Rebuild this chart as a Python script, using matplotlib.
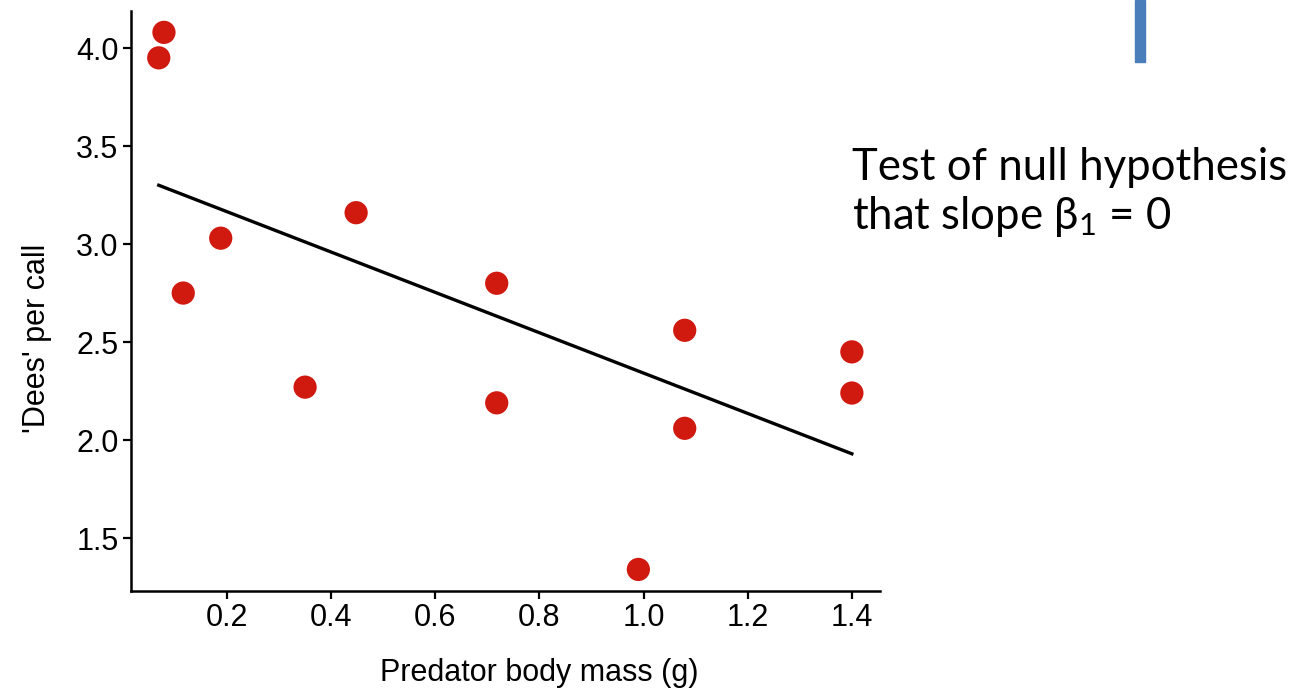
import matplotlib.pyplot as plt
from matplotlib.patches import Rectangle

# predator body mass (g) vs number of 'dee' notes per call
mass = [0.069, 0.079, 0.116, 0.188, 0.350, 0.448, 0.718, 0.718,
        0.990, 1.079, 1.079, 1.400, 1.400]
dees = [3.95, 4.08, 2.75, 3.03, 2.27, 3.16, 2.80, 2.19,
        1.34, 2.56, 2.06, 2.45, 2.24]

# least-squares line as drawn, end points over the range of mass
fit_x = [0.069, 1.400]
fit_y = [3.30, 1.93]

xticks = [0.2, 0.4, 0.6, 0.8, 1.0, 1.2, 1.4]
yticks = [1.5, 2.0, 2.5, 3.0, 3.5, 4.0]

plt.rcParams['font.family'] = ['Liberation Sans', 'DejaVu Sans']

fig = plt.figure(figsize=(12.97, 6.96), dpi=100)
ax = fig.add_axes([131 / 1297, 1 - 591 / 696, 749 / 1297, 580 / 696])

ax.plot(fit_x, fit_y, color='black', lw=2.4, zorder=2)
ax.scatter(mass, dees, s=280, color='#d0190f', edgecolors='none', zorder=3)

ax.set_xlim(0.0157, 1.454)
ax.set_ylim(1.23, 4.189)
ax.set_xticks(xticks)
ax.set_yticks(yticks)
ax.set_xticklabels([f'{t:.1f}' for t in xticks])
ax.set_yticklabels([f'{t:.1f}' for t in yticks])

for side in ['top', 'right']:
    ax.spines[side].set_visible(False)
for side in ['left', 'bottom']:
    ax.spines[side].set_linewidth(1.8)
ax.tick_params(width=1.6, length=6, labelsize=22, pad=3, color='black')

ax.set_xlabel('Predator body mass (g)', fontsize=22)
ax.set_ylabel("'Dees' per call", fontsize=22)
ax.xaxis.set_label_coords(0.545, -0.116)
ax.yaxis.set_label_coords(-0.106, 0.436)

# annotation on the right
note_font = ['Lato', 'DejaVu Sans']
fig.text(852 / 1297, 1 - 180 / 696, 'Test of null hypothesis',
         fontsize=31.5, family=note_font, va='baseline')
fig.text(852 / 1297, 1 - 229 / 696, r'that slope $\mathregular{\beta_1}$ = 0',
         fontsize=31.5, family=note_font, va='baseline')

# blue bar at the top
fig.patches.append(Rectangle((1135 / 1297, 1 - 62 / 696), 10 / 1297, 62 / 696,
                             transform=fig.transFigure, color='#4a7ebb'))

fig.savefig('out.png', dpi=100)
